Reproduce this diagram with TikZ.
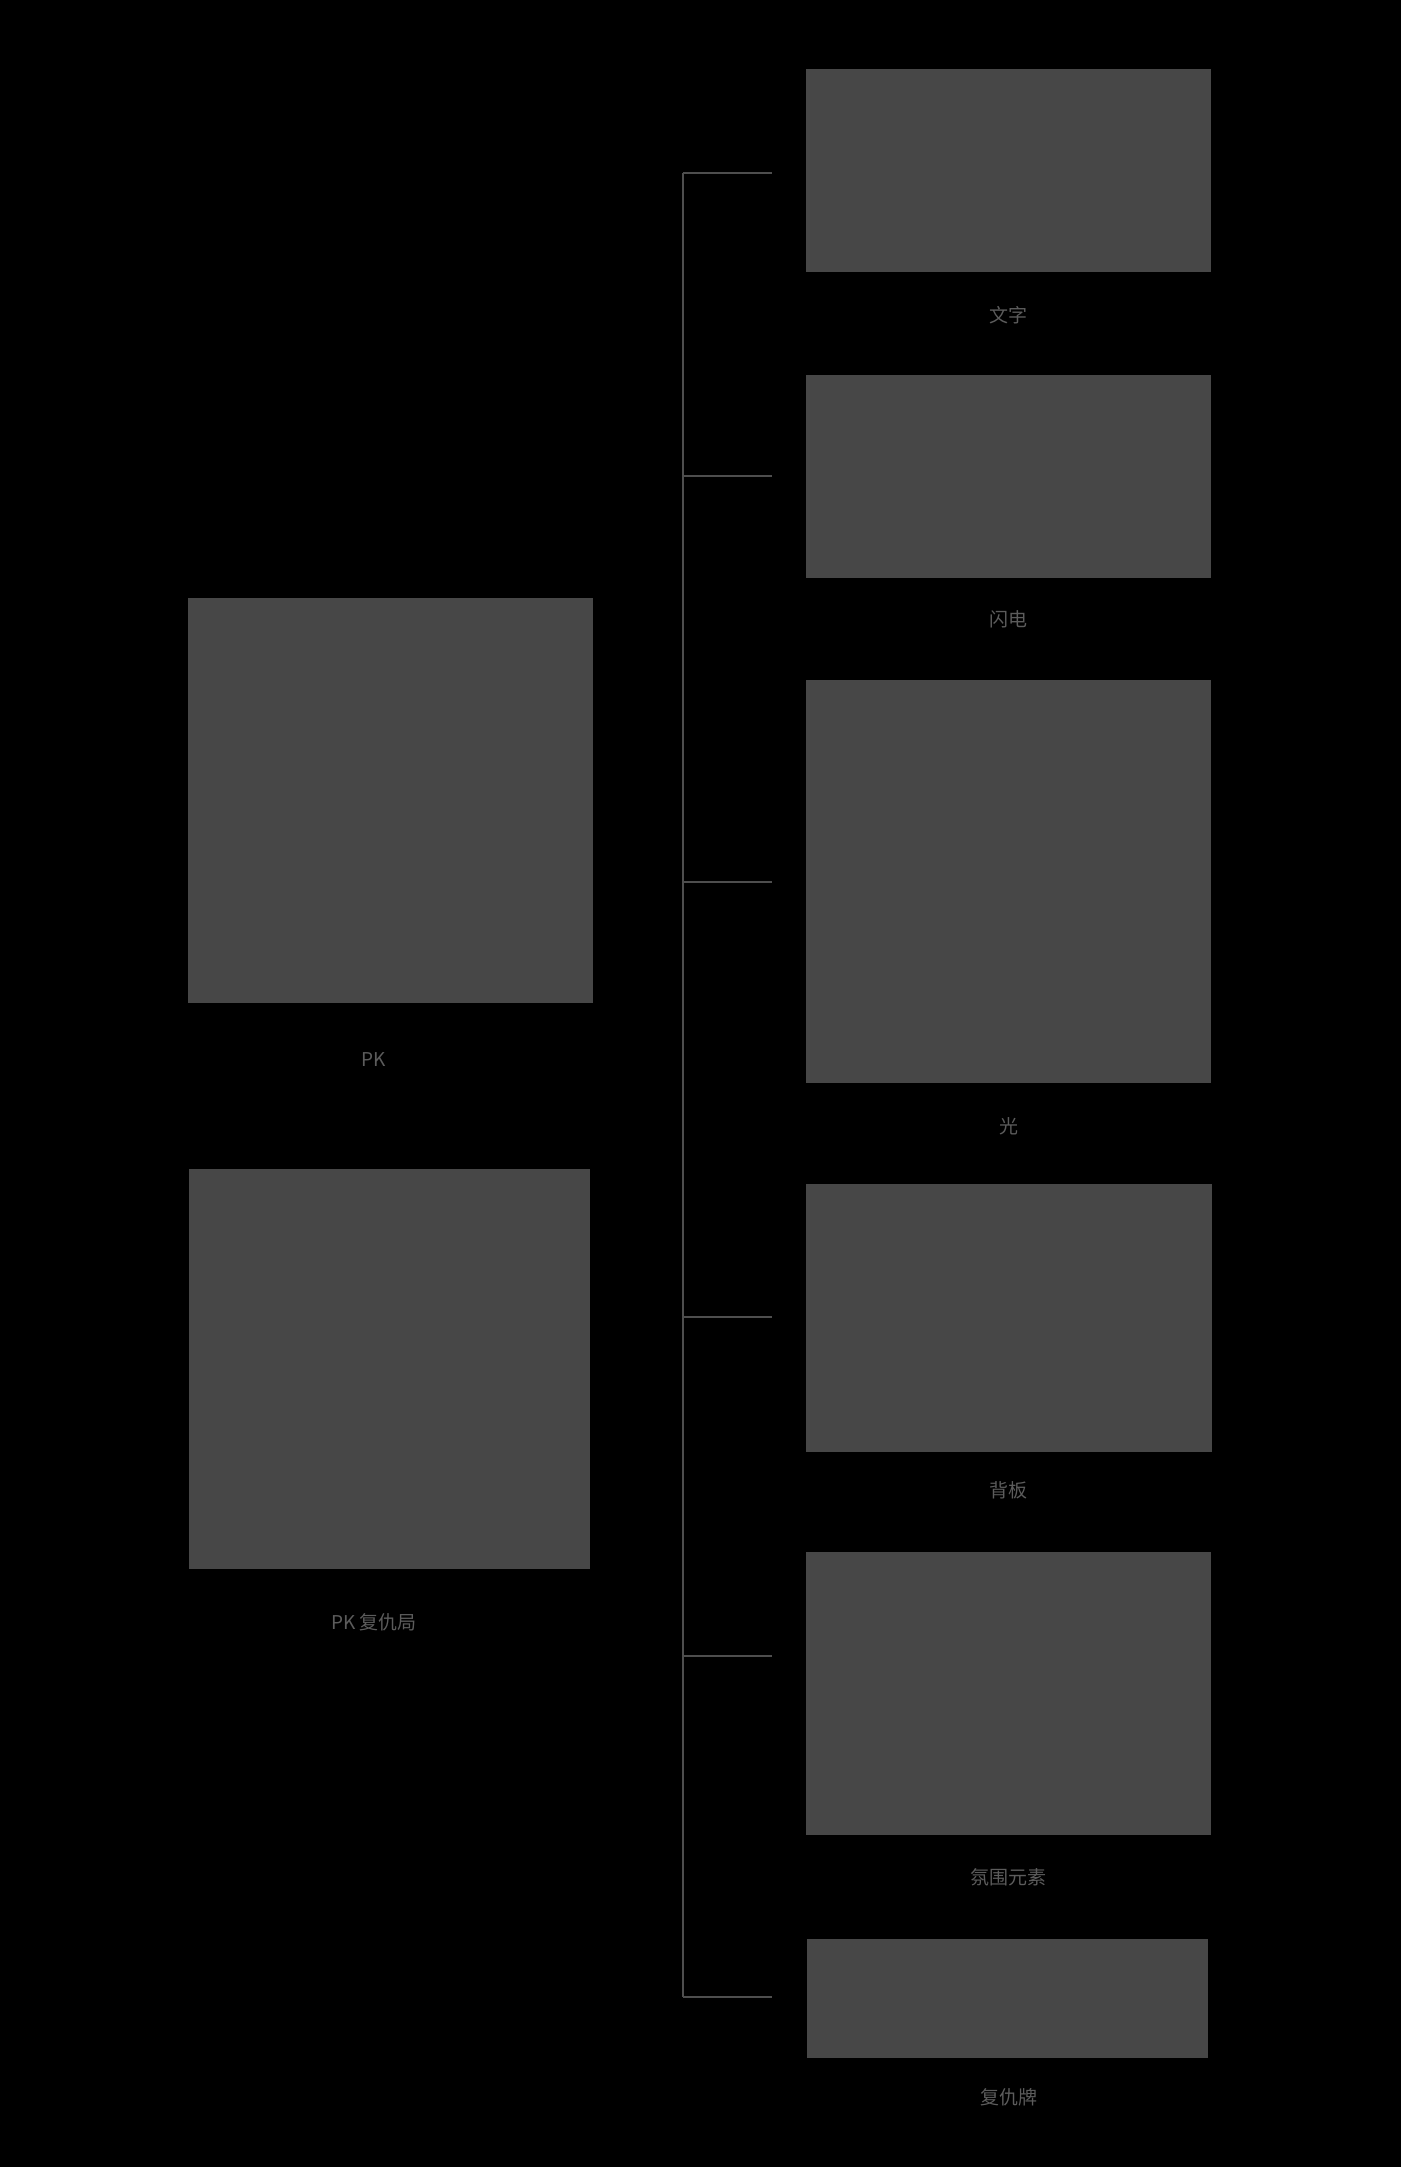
\documentclass[tikz,border=0pt]{standalone}
\usepackage{fontspec}
\setmainfont{Noto Sans CJK SC}
\usetikzlibrary{positioning}

\definecolor{panelgray}{HTML}{474747}
\definecolor{wiregray}{HTML}{4E4E4E}
\definecolor{capgray}{HTML}{5C5C5C}

\begin{document}
\begin{tikzpicture}[x=1pt, y=-1pt,
    panel/.style={fill=panelgray, draw=none, inner sep=0pt, outer sep=0pt},
    caption/.style={text=capgray, inner sep=0pt, font=\fontsize{19}{22}\selectfont},
    wire/.style={draw=wiregray, line width=1.4pt}]

  \useasboundingbox (0,0) rectangle (1400,2167);
  \fill[black] (-20,-20) rectangle (1420,2187);

  \newcommand\RX{1008.5}
  \newcommand\RW{405pt}
  \newcommand\BX{683}
  \newcommand\EX{772}

  % left column
  \node[panel, minimum width=405pt, minimum height=405pt] (pk) at (390.5, 800.5) {};
  \node[caption] (pklabel) at (374, 1060) {PK};
  \node[panel, minimum width=401pt, minimum height=400pt] (revenge) at (389.5, 1369) {};
  \node[caption] (revengelabel) at (374, 1622) {PK 复仇局};

  % right column
  \node[panel, minimum width=\RW, minimum height=203pt] (text) at (\RX, 170.5) {};
  \node[caption] (textlabel) at (\RX, 315) {文字};
  \node[panel, minimum width=\RW, minimum height=203pt] (flash) at (\RX, 476.5) {};
  \node[caption] (flashlabel) at (\RX, 619) {闪电};
  \node[panel, minimum width=\RW, minimum height=403pt] (light) at (\RX, 881.5) {};
  \node[caption] (lightlabel) at (\RX, 1126) {光};
  \node[panel, minimum width=406pt, minimum height=268pt] (board) at (1009, 1318) {};
  \node[caption] (boardlabel) at (\RX, 1490) {背板};
  \node[panel, minimum width=\RW, minimum height=283pt] (mood) at (\RX, 1693.5) {};
  \node[caption] (moodlabel) at (\RX, 1877) {氛围元素};
  \node[panel, minimum width=401pt, minimum height=119pt] (card) at (1007.5, 1998.5) {};
  \node[caption] (cardlabel) at (\RX, 2097) {复仇牌};

  % bracket
  \coordinate (b1) at (\BX, 173);
  \coordinate (b2) at (\BX, 476);
  \coordinate (b3) at (\BX, 882);
  \coordinate (b4) at (\BX, 1317);
  \coordinate (b5) at (\BX, 1656);
  \coordinate (b6) at (\BX, 1997);
  \coordinate (e1) at (\EX, 173);
  \coordinate (e2) at (\EX, 476);
  \coordinate (e3) at (\EX, 882);
  \coordinate (e4) at (\EX, 1317);
  \coordinate (e5) at (\EX, 1656);
  \coordinate (e6) at (\EX, 1997);

  \draw[wire] (b1) -- (b6);
  \draw[wire] (b1) -- (e1);
  \draw[wire] (b2) -- (e2);
  \draw[wire] (b3) -- (e3);
  \draw[wire] (b4) -- (e4);
  \draw[wire] (b5) -- (e5);
  \draw[wire] (b6) -- (e6);

\end{tikzpicture}
\end{document}
